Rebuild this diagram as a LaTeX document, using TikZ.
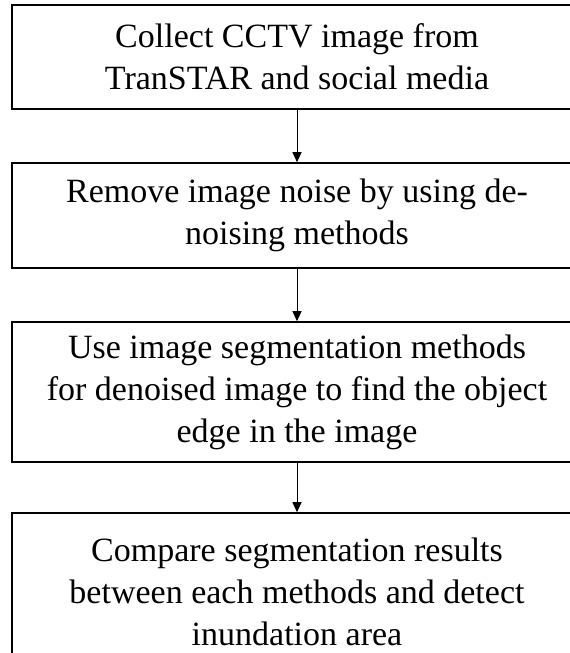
\documentclass[tikz,border=0pt]{standalone}
\usepackage{fontspec}
\setmainfont{Liberation Serif}
\usetikzlibrary{arrows.meta}
\tikzset{stepbox/.style={draw, line width=1.6pt, minimum width=570pt, inner sep=2pt, align=center, font=\fontsize{34}{42}\selectfont}}
\begin{document}
\begin{tikzpicture}[x=1pt,y=-1pt]
\useasboundingbox (0,0) rectangle (570,653);
\clip (0,0) rectangle (570,653);
\node[stepbox, minimum height=104pt] (collect) at (297,57) {Collect CCTV image from\\TranSTAR and social media};
\node[stepbox, minimum height=105pt] (denoise) at (297,215.5) {Remove image noise by using de-\\noising methods};
\node[stepbox, minimum height=140pt] (segment) at (297,392) {Use image segmentation methods\\for denoised image to find the object\\edge in the image};
\node[stepbox, minimum height=158pt] (compare) at (297,592) {Compare segmentation results\\between each methods and detect\\inundation area};

\draw[-{Triangle[length=10pt,width=9pt]}, line width=1pt] (collect) -- (denoise);
\draw[-{Triangle[length=10pt,width=9pt]}, line width=1pt] (denoise) -- (segment);
\draw[-{Triangle[length=10pt,width=9pt]}, line width=1pt] (segment) -- (compare);
\end{tikzpicture}
\end{document}
